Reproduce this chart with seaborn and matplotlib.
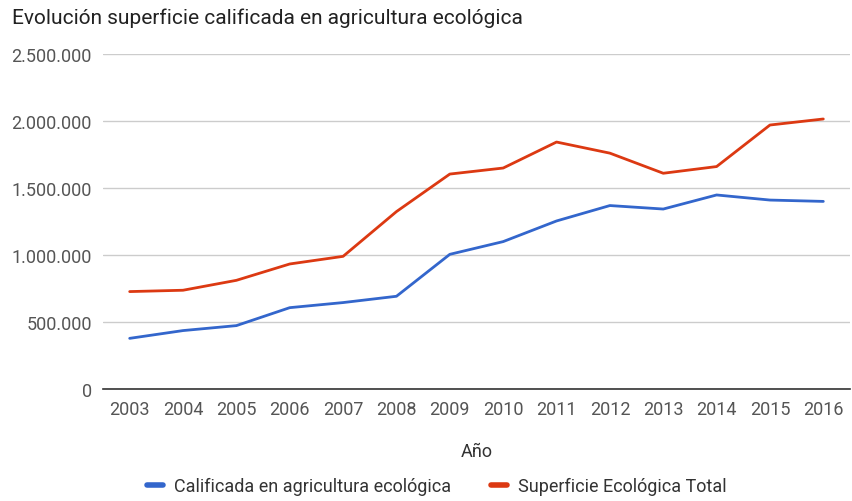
import numpy as np
import pandas as pd
import matplotlib
matplotlib.use("Agg")
import matplotlib.pyplot as plt
import seaborn as sns
from matplotlib.ticker import FuncFormatter

years = [str(y) for y in range(2003, 2017)]
calificada = [378000, 436000, 473000, 607000, 645000, 692000, 1005000,
              1100000, 1254000, 1369000, 1343000, 1448000, 1410000, 1400000]
total = [727000, 737000, 811000, 933000, 990000, 1324000, 1604000,
         1649000, 1843000, 1760000, 1610000, 1660000, 1970000, 2015000]
series_names = ["Calificada en agricultura ecológica", "Superficie Ecológica Total"]
colors = ["#3366CC", "#DC3912"]

df = pd.DataFrame({
    "Año": years * 2,
    "valor": calificada + total,
    "serie": [series_names[0]] * len(years) + [series_names[1]] * len(years),
})

sns.set_style("white")
plt.rcParams["font.family"] = ["Roboto", "DejaVu Sans"]

fig = plt.figure(figsize=(8.53, 5.02), dpi=100)
ax = fig.add_axes([103 / 853, 1 - 390 / 502, 747 / 853, 335 / 502])

sns.lineplot(data=df, x="Año", y="valor", hue="serie", palette=colors,
             linewidth=2.0, ax=ax, sort=False)

ax.set_ylim(0, 2500000)
ax.set_xlim(-0.5, len(years) - 0.5)
ax.set_yticks(np.arange(0, 2500001, 500000))
ax.yaxis.set_major_formatter(FuncFormatter(lambda v, p: f"{int(v):,}".replace(",", ".")))
ax.grid(axis="y", color="#cccccc", linewidth=1)
ax.set_axisbelow(True)
for s in ["top", "right", "left"]:
    ax.spines[s].set_visible(False)
ax.spines["bottom"].set_color("#333333")
ax.spines["bottom"].set_linewidth(1.2)
ax.tick_params(axis="both", length=0, labelsize=13, labelcolor="#555555")
ax.tick_params(axis="y", pad=8)
ax.tick_params(axis="x", pad=8)
ax.set_ylabel("")
ax.set_xlabel("Año", fontsize=13, color="#333333", labelpad=17)

fig.text(12 / 853, 1 - 18 / 502, "Evolución superficie calificada en agricultura ecológica",
         fontsize=15, color="#222222", va="center", ha="left")

handles, labels = ax.get_legend_handles_labels()
ax.get_legend().remove()
leg = fig.legend(handles, labels, loc="center", bbox_to_anchor=(437 / 853, 1 - 487 / 502),
                 ncol=2, frameon=False, fontsize=13, handlelength=0.9,
                 columnspacing=2.2, handletextpad=0.6, labelcolor="#333333")
for line in leg.get_lines():
    line.set_linewidth(4)

fig.savefig("out.png", dpi=100)
